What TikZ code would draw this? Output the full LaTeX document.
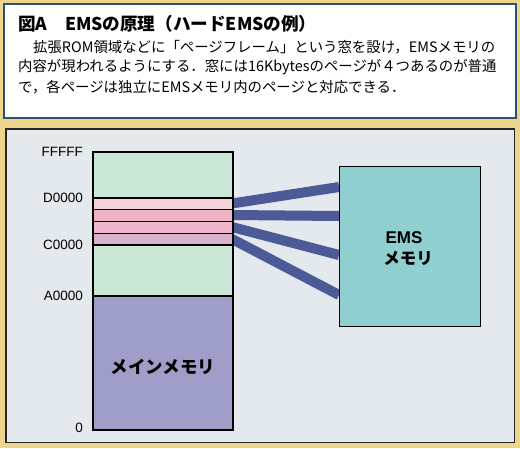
\documentclass[tikz,border=0pt]{standalone}
\usepackage{fontspec}
\setmainfont{Liberation Sans}
\newfontfamily\jp{Noto Sans CJK JP}
\definecolor{beige}{HTML}{EDD58C}
\definecolor{capborder}{HTML}{2D5077}
\definecolor{panel}{HTML}{E3E9EC}
\definecolor{mint}{HTML}{C9E7D4}
\definecolor{pinkA}{HTML}{F6D2DA}
\definecolor{pinkB}{HTML}{EFB3C6}
\definecolor{pinkC}{HTML}{EFB6CE}
\definecolor{pinkD}{HTML}{DAB2CC}
\definecolor{mainmem}{HTML}{9E9EC8}
\definecolor{emsfill}{HTML}{8FCFCF}
\definecolor{band}{HTML}{4C5A98}
\begin{document}
\begin{tikzpicture}[x=1pt,y=-1pt,
  seg/.style={draw=black,line width=1.1pt},
  addr/.style={anchor=east,font=\fontsize{13.5}{13.5}\selectfont,inner sep=0pt},
  bandline/.style={band,line width=10pt,line cap=butt},
  body/.style={anchor=west,font=\jp\fontsize{14.4}{14.4}\selectfont,inner sep=0pt}]
\useasboundingbox (0,0) rectangle (520,448);
\fill[beige] (0,0) rectangle (520,448);
% caption box
\draw[capborder,fill=white,line width=2pt] (4,4) rectangle (515.5,117.5);
\node[anchor=west,inner sep=0pt,font=\jp\bfseries\fontsize{17.6}{17.6}\selectfont] (title) at (18,24) {図A\hspace{1em}EMSの原理（ハードEMSの例）};
\node[body] (l1) at (33,47) {拡張ROM領域などに「ページフレーム」という窓を設け，EMSメモリの};
\node[body] (l2) at (18,67) {内容が現われるようにする．窓には16Kbytesのページが４つあるのが普通};
\node[body] (l3) at (18,87) {で，各ページは独立にEMSメモリ内のページと対応できる．};
% lower panel
\draw[fill=panel,draw=black!85,line width=1.5pt] (6,129) rectangle (514.5,442.5);
% bands
\coordinate (b1s) at (232,203.5); \coordinate (b1e) at (339,187);
\coordinate (b2s) at (232,215);   \coordinate (b2e) at (339,216);
\coordinate (b3s) at (232,227);   \coordinate (b3e) at (339,255);
\coordinate (b4s) at (232,239);   \coordinate (b4e) at (339,295);
\draw[bandline] (b1s) -- (b1e);
\draw[bandline] (b2s) -- (b2e);
\draw[bandline] (b3s) -- (b3e);
\draw[bandline] (b4s) -- (b4e);
% memory column
\path[fill=mint] (93,152) rectangle (233,198);
\path[fill=pinkA] (93,198) rectangle (233,209.5);
\path[fill=pinkB] (93,209.5) rectangle (233,221);
\path[fill=pinkC] (93,221) rectangle (233,233);
\path[fill=pinkD] (93,233) rectangle (233,245);
\path[fill=mint] (93,245) rectangle (233,296);
\node[fill=mainmem,inner sep=0pt,minimum width=140pt,minimum height=134pt,anchor=north west] (main) at (93,296) {};
\node[font=\jp\bfseries\fontsize{17.5}{17.5}\selectfont,inner sep=0pt] (maint) at (163,367) {メインメモリ};
\draw[black,line width=0.7pt] (93,209.5) -- (233,209.5) (93,221) -- (233,221) (93,233) -- (233,233);
\draw[seg] (93,198) -- (233,198) (93,245) -- (233,245) (93,296) -- (233,296);
\draw[seg] (93,152) rectangle (233,430);
% labels
\node[addr] (aF) at (83,152) {FFFFF};
\node[addr] (aD) at (83,198) {D0000};
\node[addr] (aC) at (83,245) {C0000};
\node[addr] (aA) at (83,296) {A0000};
\node[addr] (a0) at (83,428) {0};
% EMS box
\node[draw=black,line width=1.1pt,fill=emsfill,minimum width=141pt,minimum height=160pt,anchor=north west,inner sep=0pt] (ems) at (338.5,166) {};
\node[font=\bfseries\fontsize{17}{17}\selectfont,inner sep=0pt] (emst) at (404,238) {EMS};
\node[font=\jp\bfseries\fontsize{16.5}{16.5}\selectfont,inner sep=0pt] (emsm) at (408,258) {メモリ};
\end{tikzpicture}
\end{document}
